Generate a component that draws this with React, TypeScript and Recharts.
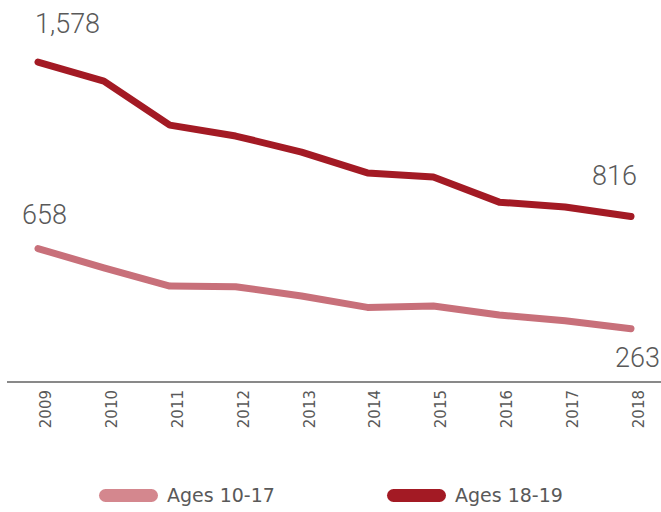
import React from 'react';
import { LineChart, Line, XAxis, YAxis, Legend } from 'recharts';

const YEARS = ['2009', '2010', '2011', '2012', '2013', '2014', '2015', '2016', '2017', '2018'];
const AGES_10_17 = [658, 563, 473, 470, 424, 368, 375, 330, 302, 263];
const AGES_18_19 = [1578, 1484, 1267, 1213, 1134, 1031, 1011, 887, 863, 816];
const SERIES_NAMES = ['Ages 10-17', 'Ages 18-19'];

const PINK = '#c8707a';
const PINK_KEY = '#d4878e';
const DARK = '#a31a24';
const TEXT = '#595959';

const data = YEARS.map((year, i) => ({
  year,
  young: AGES_10_17[i],
  older: AGES_18_19[i],
}));

// only the first and last points carry a value label
type Offsets = { first: [number, number, 'start' | 'end']; last: [number, number, 'start' | 'end'] };

const endLabels = (off: Offsets) => (props: any) => {
  const { x, y, value, index } = props;
  if (index !== 0 && index !== YEARS.length - 1) return null;
  const [dx, dy, anchor] = index === 0 ? off.first : off.last;
  return (
    <text
      key={`lbl-${index}`}
      x={x + dx}
      y={y + dy}
      textAnchor={anchor}
      fill={TEXT}
      fontSize={27}
      fontWeight={300}
      fontFamily="Roboto, sans-serif"
    >
      {Number(value).toLocaleString('en-US')}
    </text>
  );
};

const YearTick = (props: any) => {
  const { x, y, payload } = props;
  const tx = x + 13;
  const ty = y + 8;
  return (
    <text
      x={tx}
      y={ty}
      transform={`rotate(-90, ${tx}, ${ty})`}
      textAnchor="end"
      fill={TEXT}
      fontSize={15}
      fontFamily="'DejaVu Sans', sans-serif"
    >
      {payload.value}
    </text>
  );
};

const LegendRow = () => {
  const items = [
    { name: SERIES_NAMES[0], color: PINK_KEY, left: 99 },
    { name: SERIES_NAMES[1], color: DARK, left: 387 },
  ];
  return (
    <div style={{ position: 'relative', height: 30, width: 661 }}>
      {items.map((it) => (
        <div
          key={it.name}
          style={{ position: 'absolute', left: it.left, top: 0, display: 'flex', alignItems: 'center', height: 30 }}
        >
          <span style={{ width: 59, height: 13, borderRadius: 6.5, background: it.color, display: 'inline-block' }} />
          <span
            style={{
              marginLeft: 9,
              fontSize: 19,
              color: TEXT,
              fontFamily: "'DejaVu Sans', sans-serif",
            }}
          >
            {it.name}
          </span>
        </div>
      ))}
    </div>
  );
};

export default function App() {
  return (
    <div style={{ position: 'absolute', left: 0, top: 0, width: 661, height: 512, background: '#fff' }}>
      <LineChart width={661} height={512} data={data} margin={{ top: 17, right: 0, bottom: 40, left: 7 }}>
        <XAxis
          dataKey="year"
          height={60}
          interval={0}
          tickLine={false}
          tickSize={0}
          tickMargin={0}
          padding={{ left: 31, right: 30 }}
          axisLine={{ stroke: '#898989', strokeWidth: 2 }}
          tick={<YearTick />}
        />
        <YAxis hide domain={[0, 1800]} />
        <Legend
          verticalAlign="bottom"
          content={<LegendRow />}
          wrapperStyle={{ left: 0, bottom: 2, width: 661, height: 30 }}
        />
        <Line
          name={SERIES_NAMES[0]}
          dataKey="young"
          stroke={PINK}
          strokeWidth={7}
          strokeLinecap="round"
          strokeLinejoin="round"
          dot={false}
          isAnimationActive={false}
          label={endLabels({ first: [-16, -25, 'start'], last: [29, 38, 'end'] })}
        />
        <Line
          name={SERIES_NAMES[1]}
          dataKey="older"
          stroke={DARK}
          strokeWidth={7}
          strokeLinecap="round"
          strokeLinejoin="round"
          dot={false}
          isAnimationActive={false}
          label={endLabels({ first: [-3, -29, 'start'], last: [6, -32, 'end'] })}
        />
      </LineChart>
    </div>
  );
}
